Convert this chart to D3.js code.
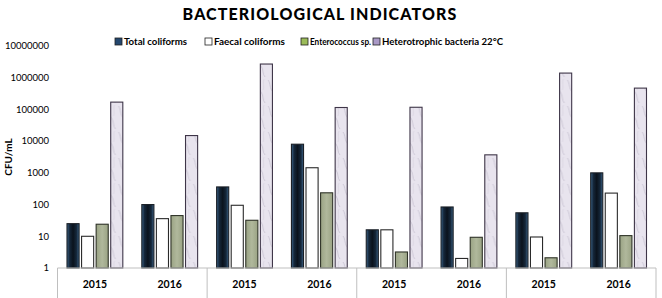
<!DOCTYPE html>
<html>
<head>
<meta charset="utf-8">
<script src="https://cdn.jsdelivr.net/npm/d3@7"></script>
<style>
  body { margin: 0; background: #fff; }
  svg text { font-family: Lato, "Open Sans", sans-serif; fill: #000; }
  .title { font-size: 16px; font-weight: 900; letter-spacing: 1.1px; }
  .legend text { font-size: 9.6px; font-weight: 700; }
  .ytick { font-size: 9.5px; }
  .year { font-size: 10.5px; font-weight: 700; }
  .ylabel { font-size: 10px; font-weight: 700; }
</style>
</head>
<body>
<div id="chart"></div>
<script>
// four sampling sites, two years each
const sites = ["S1", "S2", "S3", "S4"];
const years = ["2015", "2016"];
const seriesNames = ["Total coliforms", "Faecal coliforms", "Enterococcus sp.", "Heterotrophic bacteria 22°C"];

// values in CFU/mL, order: S1-2015, S1-2016, S2-2015, S2-2016, ...
const totalColiforms = [25, 100, 360, 8000, 16, 84, 55, 1000];
const faecalColiforms = [10, 36, 95, 1450, 16, 2, 9.5, 230];
const enterococcus = [24, 45, 32, 235, 3.2, 9.3, 2.1, 10.5];
const heterotrophic = [170000, 15000, 2700000, 115000, 117000, 3700, 1400000, 470000];

const yTicks = [1, 10, 100, 1000, 10000, 100000, 1000000, 10000000];

const width = 662, height = 298;
const plot = { left: 57.5, right: 656, top: 46, bottom: 268 };

const svg = d3.select("#chart").append("svg")
  .attr("width", width)
  .attr("height", height);

const defs = svg.append("defs");

// dark navy bar fill, lighter at the edges
const gTot = defs.append("linearGradient").attr("id", "gTot")
  .attr("x1", 0).attr("x2", 1).attr("y1", 0).attr("y2", 0);
[["0%", "#3b6388"], ["22%", "#15273a"], ["50%", "#0a121c"], ["78%", "#15273a"], ["100%", "#3b6388"]]
  .forEach(s => gTot.append("stop").attr("offset", s[0]).attr("stop-color", s[1]));

const gEnt = defs.append("linearGradient").attr("id", "gEnt")
  .attr("x1", 0).attr("x2", 1).attr("y1", 0).attr("y2", 0);
[["0%", "#9aa384"], ["50%", "#b0b89c"], ["100%", "#9aa384"]]
  .forEach(s => gEnt.append("stop").attr("offset", s[0]).attr("stop-color", s[1]));

// marble-like lavender texture
const pat = defs.append("pattern").attr("id", "marble")
  .attr("patternUnits", "userSpaceOnUse").attr("width", 12).attr("height", 26);
pat.append("rect").attr("width", 12).attr("height", 26).attr("fill", "#e8e4ee");
pat.append("path").attr("d", "M1,2 C4,6 2,10 6,14 C9,18 7,22 10,25")
  .attr("fill", "none").attr("stroke", "#c2bccb").attr("stroke-width", 0.7);
pat.append("path").attr("d", "M9,1 C7,5 10,8 8,12")
  .attr("fill", "none").attr("stroke", "#d3cedb").attr("stroke-width", 0.6);

const series = [
  { name: seriesNames[0], values: totalColiforms, fill: "url(#gTot)", stroke: "#1a1f26", key: "#24476e" },
  { name: seriesNames[1], values: faecalColiforms, fill: "#ffffff", stroke: "#2a2a2a", key: "#ffffff" },
  { name: seriesNames[2], values: enterococcus, fill: "url(#gEnt)", stroke: "#2f3328", key: "#9bbb59" },
  { name: seriesNames[3], values: heterotrophic, fill: "url(#marble)", stroke: "#3e3548", key: "#a999c6" }
];

const categories = [];
sites.forEach(s => years.forEach(y => categories.push(s + "-" + y)));

const x0 = d3.scaleBand().domain(categories).range([plot.left, plot.right]);
const x1 = d3.scaleBand().domain(series.map(d => d.name))
  .range([9.5, x0.bandwidth() - 9.5]).paddingInner(0.17);
const y = d3.scaleLog().domain([1, 1e7]).range([plot.bottom, plot.top]);

// title
svg.append("text").attr("class", "title")
  .attr("x", 320).attr("y", 20).attr("text-anchor", "middle")
  .text("BACTERIOLOGICAL INDICATORS");

// y axis labels (no axis line)
svg.append("g").selectAll("text").data(yTicks).join("text")
  .attr("class", "ytick")
  .attr("x", 49).attr("y", d => y(d)).attr("dy", "0.35em")
  .attr("text-anchor", "end")
  .text(d => d);

svg.append("text").attr("class", "ylabel")
  .attr("transform", "translate(12,157) rotate(-90)")
  .attr("text-anchor", "middle")
  .text("CFU/mL");

// bars
const cat = svg.append("g").selectAll("g").data(categories).join("g")
  .attr("transform", d => "translate(" + x0(d) + ",0)");

cat.selectAll("rect")
  .data((c, i) => series.map(s => ({ s: s, v: s.values[i] })))
  .join("rect")
  .attr("x", d => x1(d.s.name))
  .attr("width", x1.bandwidth())
  .attr("y", d => y(d.v))
  .attr("height", d => y(1) - y(d.v))
  .attr("fill", d => d.s.fill)
  .attr("stroke", d => d.s.stroke)
  .attr("stroke-width", 1.1);

// x axis as a table: baseline, group separators and year labels
const axis = svg.append("g").attr("stroke", "#bfbfbf").attr("stroke-width", 1);
axis.append("line")
  .attr("x1", plot.left).attr("x2", plot.right)
  .attr("y1", plot.bottom).attr("y2", plot.bottom);
const sepX = sites.map(s => x0(s + "-" + years[0])).concat([plot.right]);
axis.selectAll(".sep").data(sepX).join("line")
  .attr("x1", d => d).attr("x2", d => d)
  .attr("y1", plot.bottom).attr("y2", height);

svg.append("g").selectAll("text").data(categories).join("text")
  .attr("class", "year")
  .attr("x", d => x0(d) + x0.bandwidth() / 2)
  .attr("y", 284).attr("dy", "0.35em")
  .attr("text-anchor", "middle")
  .text(d => d.split("-")[1]);

// legend - squares placed like the original, text squeezed to fit a narrow face
const legendX = [115, 205, 301, 373];
const legendW = [63, 71, 61, 121];
const leg = svg.append("g").attr("class", "legend").selectAll("g").data(series).join("g")
  .attr("transform", (d, i) => "translate(" + legendX[i] + ",42)");
leg.append("rect")
  .attr("x", 0).attr("y", -4).attr("width", 7).attr("height", 7)
  .attr("fill", d => d.key).attr("stroke", "#222").attr("stroke-width", 0.8);
leg.append("text")
  .attr("x", 9).attr("y", 0).attr("dy", "0.35em")
  .attr("textLength", (d, i) => legendW[i])
  .attr("lengthAdjust", "spacingAndGlyphs")
  .text(d => d.name);
</script>
</body>
</html>
